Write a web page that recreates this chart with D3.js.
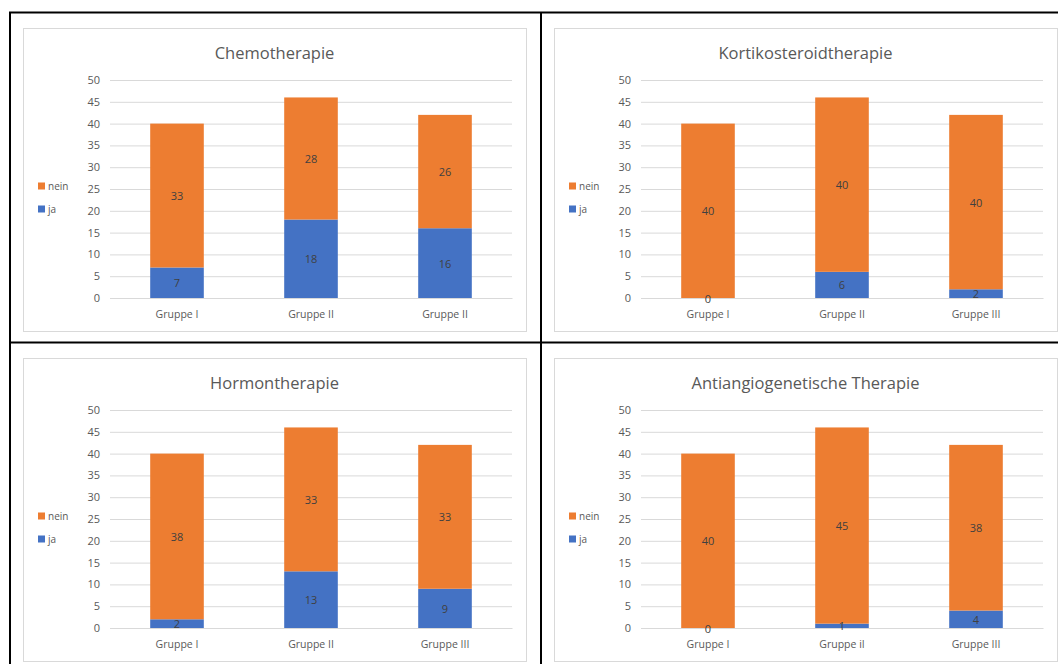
<!DOCTYPE html>
<html>
<head>
<meta charset="utf-8">
<script src="https://cdn.jsdelivr.net/npm/d3@7"></script>
<style>
  html, body { margin: 0; padding: 0; background: #fff; }
  svg { display: block; }
  text { font-family: "Open Sans", "Noto Sans", sans-serif; }
</style>
</head>
<body>
<svg id="chart" width="1058" height="664"></svg>
<script>
// Stacked bar data per therapy (ja = yes, nein = no)
const seriesNames = ["ja", "nein"];
const yTicks = [0, 5, 10, 15, 20, 25, 30, 35, 40, 45, 50];

const chemoTitle = "Chemotherapie";
const chemoGroups = ["Gruppe I", "Gruppe II", "Gruppe II"];
const chemoJa = [7, 18, 16];
const chemoNein = [33, 28, 26];

const kortiTitle = "Kortikosteroidtherapie";
const kortiGroups = ["Gruppe I", "Gruppe II", "Gruppe III"];
const kortiJa = [0, 6, 2];
const kortiNein = [40, 40, 40];

const hormonTitle = "Hormontherapie";
const hormonGroups = ["Gruppe I", "Gruppe II", "Gruppe III"];
const hormonJa = [2, 13, 9];
const hormonNein = [38, 33, 33];

const antiTitle = "Antiangiogenetische Therapie";
const antiGroups = ["Gruppe I", "Gruppe iI", "Gruppe III"];
const antiJa = [0, 1, 4];
const antiNein = [40, 45, 38];

const colors = { ja: "#4472C4", nein: "#ED7D31" };

const svg = d3.select("#chart");

// Table grid lines framing the four panels
const grid = svg.append("g").attr("stroke", "#000").attr("stroke-width", 2);
grid.append("line").attr("x1", 9).attr("x2", 1058).attr("y1", 12.5).attr("y2", 12.5);
grid.append("line").attr("x1", 9).attr("x2", 1058).attr("y1", 342.5).attr("y2", 342.5);
grid.append("line").attr("x1", 10).attr("x2", 10).attr("y1", 12).attr("y2", 664);
grid.append("line").attr("x1", 541).attr("x2", 541).attr("y1", 12).attr("y2", 664);

function panel(x0, y0, title, groups, ja, nein) {
  const W = 503, H = 303;
  const g = svg.append("g").attr("transform", `translate(${x0},${y0})`);

  g.append("rect")
    .attr("x", 0.5).attr("y", 0.5).attr("width", W).attr("height", H)
    .attr("fill", "#fff").attr("stroke", "#D9D9D9").attr("stroke-width", 1);

  g.append("text")
    .attr("x", W / 2).attr("y", 24)
    .attr("text-anchor", "middle").attr("dominant-baseline", "central")
    .attr("font-size", 16.5).attr("fill", "#595959")
    .text(title);

  const x = d3.scaleBand().domain(d3.range(groups.length)).range([87, 489])
    .paddingInner(0.6).paddingOuter(0.3);
  const y = d3.scaleLinear().domain([0, 50]).range([270, 52]);

  // gridlines + y axis labels
  const yAxis = d3.axisLeft(y).tickValues(yTicks).tickSize(-(489 - 87)).tickPadding(10);
  const ya = g.append("g").attr("transform", "translate(87,0)").call(yAxis);
  ya.select(".domain").remove();
  ya.selectAll(".tick line").attr("stroke", "#D9D9D9").attr("stroke-width", 1);
  ya.selectAll(".tick text").attr("fill", "#595959").attr("font-size", 11)
    .attr("font-family", "'Open Sans', sans-serif");

  // x axis labels
  const xAxis = d3.axisBottom(x).tickFormat(i => groups[i]).tickSize(0).tickPadding(13);
  const xa = g.append("g").attr("transform", "translate(0,270)").call(xAxis);
  xa.select(".domain").attr("stroke", "#D9D9D9");
  xa.selectAll(".tick text").attr("fill", "#595959").attr("font-size", 10.5)
    .attr("font-family", "'Open Sans', sans-serif");

  const rows = groups.map((gname, i) => ({ i, ja: ja[i], nein: nein[i] }));
  const stack = d3.stack().keys(seriesNames)(rows);

  const layers = g.selectAll(".layer").data(stack).join("g")
    .attr("fill", d => colors[d.key]);
  layers.selectAll("rect").data(d => d).join("rect")
    .attr("x", d => x(d.data.i))
    .attr("width", x.bandwidth())
    .attr("y", d => y(d[1]))
    .attr("height", d => y(d[0]) - y(d[1]));

  // value labels centred in each segment
  stack.forEach(layer => {
    g.selectAll(null).data(layer).join("text")
      .attr("x", d => x(d.data.i) + x.bandwidth() / 2)
      .attr("y", d => y((d[0] + d[1]) / 2))
      .attr("text-anchor", "middle").attr("dominant-baseline", "central")
      .attr("font-size", 11).attr("fill", "#404040")
      .text(d => d[1] - d[0]);
  });

  // legend
  const legendItems = [["nein", 158], ["ja", 181]];
  legendItems.forEach(([k, ly]) => {
    g.append("rect").attr("x", 15).attr("y", ly - 3.5).attr("width", 7).attr("height", 7)
      .attr("fill", colors[k]);
    g.append("text").attr("x", 25).attr("y", ly).attr("dominant-baseline", "central")
      .attr("font-size", 10).attr("fill", "#595959").text(k);
  });
}

panel(23, 28, chemoTitle, chemoGroups, chemoJa, chemoNein);
panel(554, 28, kortiTitle, kortiGroups, kortiJa, kortiNein);
panel(23, 358, hormonTitle, hormonGroups, hormonJa, hormonNein);
panel(554, 358, antiTitle, antiGroups, antiJa, antiNein);
</script>
</body>
</html>
